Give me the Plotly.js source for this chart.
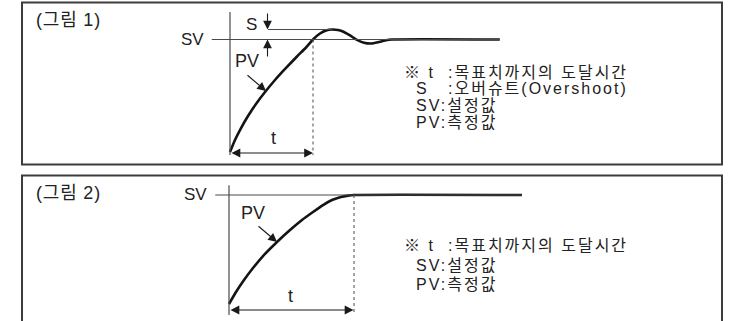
<!DOCTYPE html>
<html><head><meta charset="utf-8">
<script src="https://cdn.plot.ly/plotly-3.0.1.min.js"></script>
<style>html,body{margin:0;padding:0;background:#fff}#c{width:734px;height:321px}</style>
</head><body><div id="c"></div>
<script>
// ---- data (time in arbitrary units, t = 10; PV in % of SV) ----
const SV = 100;
const fig1Time = [0, 0.6, 1.33, 2.17, 3.13, 4.22, 5.42, 6.75, 8.07, 9.16, 10, 10.84, 11.57, 12.29, 13.01, 13.73, 14.46, 15.3, 16.14, 16.99, 17.83, 18.67, 19.52, 32.5];
const fig1PV   = [0, 10.7, 21.3, 32, 42.7, 53.3, 64, 74.7, 84.9, 92.9, 100, 105.3, 108, 108.9, 108.4, 106.7, 103.6, 99.6, 97.1, 96.4, 97.5, 99.1, 100, 100];
const fig2Time = [0, 0.56, 1.2, 1.92, 2.72, 3.84, 4.88, 5.84, 6.72, 7.52, 8.24, 8.96, 9.52, 10, 23.44];
const fig2PV   = [0, 11, 22, 33, 44, 56.9, 67.9, 77.1, 84.4, 90.8, 95.4, 98.2, 99.4, 100, 100];
const reachTime = 10;       // t
const overshootPeak = 108.9;  // S peak
const panelTitles = ['(그림 1)', '(그림 2)'];
const notes1 = [['※ t', ':목표치까지의 도달시간'], ['S', ':오버슈트(Overshoot)'], ['SV:설정값', ''], ['PV:측정값', '']];
const notes2 = [['※ t', ':목표치까지의 도달시간'], ['SV:설정값', ''], ['PV:측정값', '']];

// ---- layout helpers ----
const W = 734, H = 321;
const px = x => x / W, py = y => 1 - y / H;
const FONT = 'Liberation Sans, Noto Sans CJK KR, sans-serif';
const TXT = '#222', LINE = '#4a4a4a', CURVE = '#141414';

const traces = [
  {x: fig1Time, y: fig1PV, xaxis: 'x', yaxis: 'y', mode: 'lines',
   line: {color: CURVE, width: 2.6, shape: 'spline', smoothing: 0.5}, hoverinfo: 'skip'},
  {x: fig2Time, y: fig2PV, xaxis: 'x2', yaxis: 'y2', mode: 'lines',
   line: {color: CURVE, width: 2.6, shape: 'spline', smoothing: 0.5}, hoverinfo: 'skip'}
];

const hid = {visible: false, fixedrange: true};
const shapes = [
  {type: 'rect', xref: 'paper', yref: 'paper', x0: px(22), x1: px(722), y0: py(164.5), y1: py(2.5), line: {color: '#3c3c3c', width: 2}},
  {type: 'rect', xref: 'paper', yref: 'paper', x0: px(22), x1: px(722), y0: py(340), y1: py(175.5), line: {color: '#3c3c3c', width: 2}},
  {type: 'line', xref: 'x', yref: 'y', x0: 0, x1: 0, y0: -2.7, y1: 124.4, line: {color: LINE, width: 1.2}},
  {type: 'line', xref: 'x', yref: 'y', x0: -2.2, x1: fig1Time[fig1Time.length-1], y0: SV, y1: SV, line: {color: LINE, width: 1.1}},
  {type: 'line', xref: 'x', yref: 'y', x0: reachTime, x1: reachTime, y0: SV, y1: -2.7, line: {color: LINE, width: 1, dash: 'dot'}},
  {type: 'line', xref: 'x', yref: 'y', x0: 4.6, x1: 12.3, y0: overshootPeak, y1: overshootPeak, line: {color: LINE, width: 1.1}},
  {type: 'line', xref: 'x2', yref: 'y2', x0: 0, x1: 0, y0: -10.1, y1: 109, line: {color: LINE, width: 1.2}},
  {type: 'line', xref: 'x2', yref: 'y2', x0: -1.1, x1: fig2Time[fig2Time.length-1], y0: SV, y1: SV, line: {color: LINE, width: 1.1}},
  {type: 'line', xref: 'x2', yref: 'y2', x0: reachTime, x1: reachTime, y0: SV, y1: -10.1, line: {color: LINE, width: 1, dash: 'dot'}}
];

function txt(t, x, y, anchor, size, ls) {
  const s = ls ? '<span style="letter-spacing:' + ls + 'px">' + t + '</span>' : t;
  return {text: s, xref: 'paper', yref: 'paper', x: px(x), y: py(y), xanchor: anchor || 'left', yanchor: 'middle',
          showarrow: false, borderpad: 0, font: {family: FONT, size: size || 16, color: TXT}};
}
function arrow(hx, hy, tx, ty, both) {
  return {text: '', xref: 'paper', yref: 'paper', x: px(hx), y: py(hy), ax: tx - hx, ay: ty - hy,
          showarrow: true, arrowhead: 2, startarrowhead: 2, arrowsize: 1.6, startarrowsize: 1.6, arrowwidth: 1.1,
          arrowcolor: '#1a1a1a', arrowside: both ? 'end+start' : 'end', standoff: 0, startstandoff: 0};
}

const annotations = [
  txt(panelTitles[0], 35, 20.5, 'left', 18, 0.8),
  txt(panelTitles[1], 35, 192.5, 'left', 18, 0.8),
  txt('SV', 205, 39.5, 'right', 17),
  txt('SV', 208, 194, 'right', 17),
  txt('S', 251, 24, 'center', 17),
  txt('PV', 247, 61.5, 'center', 18),
  txt('PV', 253, 213, 'center', 18),
  txt('t', 273, 138, 'center', 18),
  txt('t', 290, 296, 'center', 18),
  arrow(266, 91, 246, 74),
  arrow(277, 242, 257, 225),
  arrow(267.5, 29.5, 267.5, 12),
  arrow(267.5, 39.5, 267.5, 58),
  arrow(313, 153, 230, 153, true),
  arrow(353.5, 310, 229, 310, true)
];
const rows1 = [72, 88.5, 105.5, 122];
notes1.forEach((r, i) => {
  const left = r[0].startsWith('※') ? 403 : 415;
  annotations.push(txt(r[0], left, rows1[i], 'left', 16, 2));
  if (r[1]) annotations.push(txt(r[1], 447, rows1[i], 'left', 16, 2));
});
const rows2 = [245, 265.5, 284];
notes2.forEach((r, i) => {
  const left = r[0].startsWith('※') ? 403 : 415;
  annotations.push(txt(r[0], left, rows2[i], 'left', 16, 2));
  if (r[1]) annotations.push(txt(r[1], 447, rows2[i], 'left', 16, 2));
});

const layout = {
  width: W, height: H, margin: {l: 0, r: 0, t: 0, b: 0},
  paper_bgcolor: '#fff', plot_bgcolor: 'rgba(0,0,0,0)', showlegend: false,
  xaxis: Object.assign({domain: [0, 1], range: [-230 / 8.3, 504 / 8.3], anchor: 'y'}, hid),
  yaxis: Object.assign({domain: [1 - 168 / 321, 1], range: [-16 / 1.125, 152 / 1.125], anchor: 'x'}, hid),
  xaxis2: Object.assign({domain: [0, 1], range: [-229 / 12.5, 505 / 12.5], anchor: 'y2'}, hid),
  yaxis2: Object.assign({domain: [0, 1 - 168 / 321], range: [-17 / 1.09, 136 / 1.09], anchor: 'x2'}, hid),
  shapes: shapes, annotations: annotations
};
Plotly.newPlot('c', traces, layout, {staticPlot: true, displayModeBar: false});
</script></body></html>
